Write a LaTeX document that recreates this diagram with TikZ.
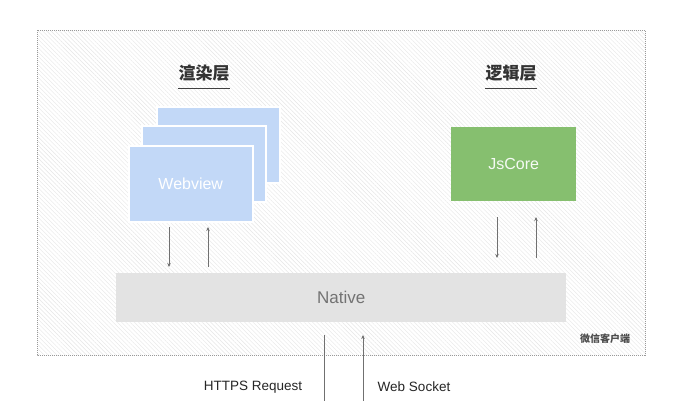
\documentclass[tikz,border=0pt]{standalone}
\usepackage{fontspec}
\setmainfont{Liberation Sans}
\newfontfamily\cjk{Noto Sans CJK SC}
\usetikzlibrary{arrows.meta,patterns.meta}
\definecolor{webblue}{HTML}{C2D8F7}
\definecolor{jsgreen}{HTML}{86BF6F}
\definecolor{nativegray}{HTML}{E3E3E3}
\definecolor{linegray}{HTML}{707070}
\definecolor{hatch}{HTML}{E6E6E6}
\tikzset{
  web/.style={fill=webblue,draw=white,line width=1.5pt},
  flow/.style={draw=linegray,line width=0.7pt,-{Stealth[length=4pt,width=3.5pt]}},
  plainline/.style={draw=linegray,line width=0.7pt},
  title/.style={font=\cjk\bfseries\fontsize{17}{19}\selectfont,text=black!80},
  lbl/.style={font=\fontsize{13.5}{15}\selectfont,text=black!85}
}
\begin{document}
\begin{tikzpicture}[x=1pt,y=-1pt]
\useasboundingbox (0,0) rectangle (679,400);
\fill[white] (0,0) rectangle (679,400);
% client frame
\fill[pattern={Lines[angle=-45,distance=3pt,line width=0.4pt]},pattern color=hatch] (37,30) rectangle (645,355);
\draw[densely dotted,draw=black!40,line width=1pt] (37,30) rectangle (645,355);
\node[font=\cjk\bfseries\fontsize{10}{11}\selectfont,text=black!70] (client) at (605,339) {微信客户端};
% titles
\node[title] (render) at (204,73) {渲染层};
\draw[black!75,line width=0.8pt] ([xshift=3pt,yshift=-4pt]render.south west) -- ([xshift=-3pt,yshift=-4pt]render.south east);
\node[title] (logic) at (511,73) {逻辑层};
\draw[black!75,line width=0.8pt] ([xshift=3pt,yshift=-4pt]logic.south west) -- ([xshift=-3pt,yshift=-4pt]logic.south east);
% webview stack
\path[web] (157,107) rectangle (280,183);
\path[web] (142,126) rectangle (266,202);
\node[web,minimum width=124pt,minimum height=76pt,anchor=north west,font=\fontsize{16}{18}\selectfont,text=white] (webview) at (128,145) {Webview};
% jscore
\node[fill=jsgreen,minimum width=125pt,minimum height=74pt,anchor=north west,font=\fontsize{16}{18}\selectfont,text=white!92!jsgreen] (jscore) at (451,127) {JsCore};
% native
\node[fill=nativegray,minimum width=450pt,minimum height=49pt,anchor=north west,font=\fontsize{17}{19}\selectfont,text=black!55] (native) at (116,273) {Native};
% arrows webview <-> native
\coordinate (w1t) at (169,227); \coordinate (w1b) at (169,267);
\coordinate (w2t) at (208,227); \coordinate (w2b) at (208,267);
\draw[flow] (w1t) -- (w1b);
\draw[flow] (w2b) -- (w2t);
% arrows jscore <-> native
\coordinate (j1t) at (497,217); \coordinate (j1b) at (497,258);
\coordinate (j2t) at (536,217); \coordinate (j2b) at (536,258);
\draw[flow] (j1t) -- (j1b);
\draw[flow] (j2b) -- (j2t);
% network
\coordinate (h1t) at (324,335); \coordinate (h1b) at (324,401);
\coordinate (h2t) at (363,335); \coordinate (h2b) at (363,401);
\draw[plainline] (h1t) -- (h1b);
\draw[flow] (h2b) -- (h2t);
\node[lbl] (https) at (253,387) {HTTPS Request};
\node[lbl] (ws) at (414,387) {Web Socket};
\end{tikzpicture}
\end{document}
